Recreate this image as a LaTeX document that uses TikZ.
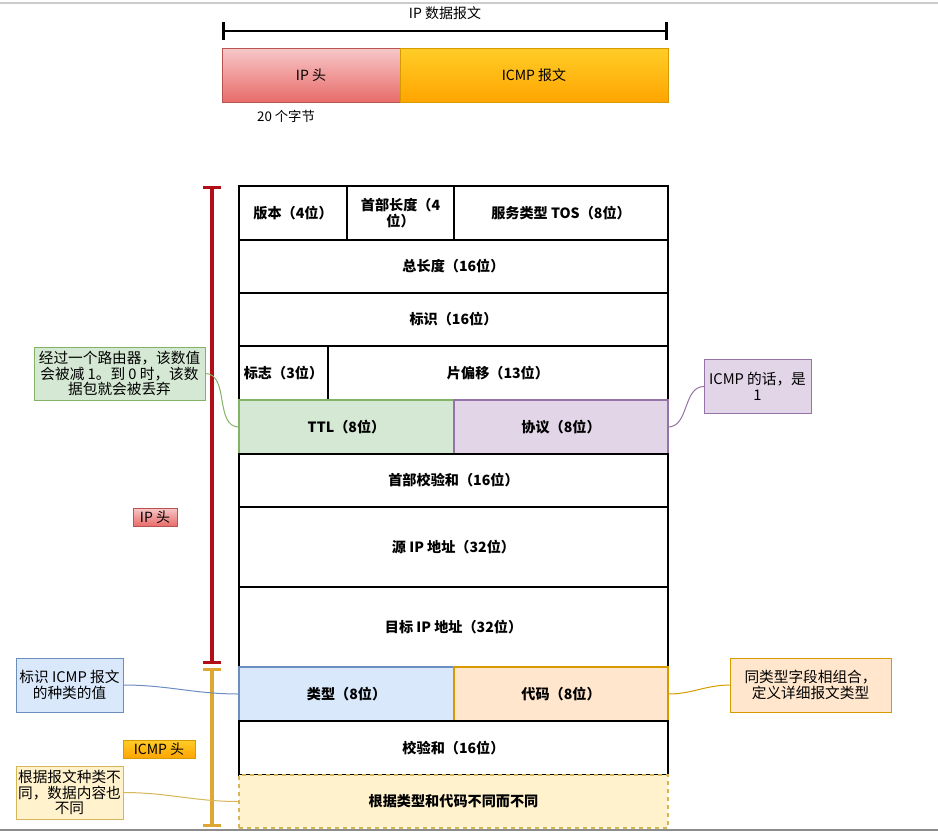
\documentclass[tikz,border=0pt]{standalone}
\usepackage{fontspec}
\setmainfont{Noto Sans CJK SC}
\usetikzlibrary{arrows.meta}

\definecolor{redTop}{RGB}{246,200,200}
\definecolor{redBot}{RGB}{232,108,106}
\definecolor{redLine}{RGB}{184,84,80}
\definecolor{orgTop}{RGB}{255,205,40}
\definecolor{orgBot}{RGB}{255,165,0}
\definecolor{orgLine}{RGB}{215,155,0}
\definecolor{grnFill}{RGB}{213,232,212}
\definecolor{grnLine}{RGB}{130,179,102}
\definecolor{purFill}{RGB}{225,213,231}
\definecolor{purLine}{RGB}{150,115,166}
\definecolor{bluFill}{RGB}{218,232,252}
\definecolor{bluLine}{RGB}{108,142,191}
\definecolor{pchFill}{RGB}{255,230,204}
\definecolor{ylwFill}{RGB}{255,242,204}
\definecolor{ylwLine}{RGB}{214,182,86}
\definecolor{ipRed}{RGB}{178,14,24}
\definecolor{icmpGold}{RGB}{222,166,50}

\begin{document}
\begin{tikzpicture}[x=0.75pt,y=0.75pt,yscale=-1,xscale=1,
  cell/.style={draw,line width=1.35pt,inner sep=1pt,outer sep=0pt,align=center,
    font=\fontsize{10.6}{12.4}\selectfont\bfseries},
  note/.style={draw,line width=0.75pt,inner sep=1pt,outer sep=0pt,align=center,
    font=\fontsize{11}{11.8}\selectfont},
  tag/.style={draw,line width=0.6pt,inner sep=0pt,outer sep=0pt,
    minimum height=13.5pt,font=\fontsize{10.5}{12}\selectfont},
  link/.style={line width=0.75pt},
  brace/.style={line width=2.6pt,{Bar[width=14pt]}-{Bar[width=14pt]}}]

\useasboundingbox (0,0) rectangle (938,832);
% screenshot edges
\draw[line width=2.2pt,black!20] (0,3) -- (938,3);
\draw[line width=2.2pt,black!45] (0,830) -- (938,830);

% datagram overview
\coordinate (dgL) at (222,31);
\coordinate (dgR) at (668,31);
\draw[line width=2.2pt,{Bar[width=13.5pt]}-{Bar[width=13.5pt]}] (dgL) -- (dgR);
\node[font=\fontsize{10.5}{12}\selectfont] (dgram) at (445,13) {IP 数据报文};
\node[draw=redLine,line width=0.75pt,top color=redTop,bottom color=redBot,minimum width=133.5pt,minimum height=40.5pt,
  font=\fontsize{10.5}{12}\selectfont] (iphd) at (311,75) {IP 头};
\node[draw=orgLine,line width=0.75pt,top color=orgTop,bottom color=orgBot,minimum width=201pt,minimum height=40.5pt,
  font=\fontsize{10.5}{12}\selectfont] (icmpmsg) at (534,75) {ICMP 报文};
\node[font=\fontsize{10}{12}\selectfont] (bytes) at (286,116) {20 个字节};

% IP header fields
\node[cell,minimum width=81pt,minimum height=40.5pt] (ver) at (293,213) {版本（4位）};
\node[cell,minimum width=80.25pt,minimum height=40.5pt] (hlen) at (400.5,213) {首部长度（4\\位）};
\node[cell,minimum width=160.5pt,minimum height=40.5pt] (tos) at (561,213) {服务类型 TOS（8位）};
\node[cell,minimum width=321.75pt,minimum height=39.75pt] (tlen) at (453.5,266.5) {总长度（16位）};
\node[cell,minimum width=321.75pt,minimum height=39.75pt] (ident) at (453.5,319.5) {标识（16位）};
\node[cell,minimum width=66.75pt,minimum height=40.5pt] (flags) at (283.5,373) {标志（3位）};
\node[cell,minimum width=255pt,minimum height=40.5pt] (frag) at (498,373) {片偏移（13位）};
\node[cell,draw=grnLine,fill=grnFill,minimum width=161.25pt,minimum height=40.5pt] (ttl) at (346.5,427) {TTL（8位）};
\node[cell,draw=purLine,fill=purFill,minimum width=160.5pt,minimum height=40.5pt] (proto) at (561,427) {协议（8位）};
\node[cell,minimum width=321.75pt,minimum height=39.75pt] (hsum) at (453.5,480.5) {首部校验和（16位）};
\node[cell,minimum width=321.75pt,minimum height=60pt] (src) at (453.5,547) {源 IP 地址（32位）};
\node[cell,minimum width=321.75pt,minimum height=60pt] (dst) at (453.5,627) {目标 IP 地址（32位）};

% ICMP fields
\node[cell,draw=bluLine,fill=bluFill,minimum width=161.25pt,minimum height=40.5pt] (type) at (346.5,694) {类型（8位）};
\node[cell,draw=orgLine,fill=pchFill,minimum width=160.5pt,minimum height=40.5pt] (code) at (561,694) {代码（8位）};
\node[cell,minimum width=321.75pt,minimum height=40.5pt] (isum) at (453.5,748) {校验和（16位）};
\node[cell,draw=ylwLine,fill=ylwFill,dashed,minimum width=321.75pt,minimum height=39.75pt] (data) at (453.5,801.5) {根据类型和代码不同而不同};

% header spans
\coordinate (ipT) at (212,186);
\coordinate (ipB) at (212,664);
\coordinate (icT) at (212,668);
\coordinate (icB) at (212,827);
\draw[brace,ipRed] (ipT) -- (ipB);
\draw[brace,icmpGold] (icT) -- (icB);
\node[tag,draw=redLine,top color=redTop,bottom color=redBot,minimum width=33pt] (iptag) at (155,517) {IP 头};
\node[tag,draw=orgLine,top color=orgTop,bottom color=orgBot,minimum width=54pt] (icmptag) at (159,749) {ICMP 头};

% notes
\node[note,draw=grnLine,fill=grnFill,minimum width=128.25pt,minimum height=39.75pt] (ttlnote) at (119.5,373.5)
  {经过一个路由器，该数值\\会被减 1。到 0 时，该数\\据包就会被丢弃};
\node[note,draw=purLine,fill=purFill,minimum width=80.25pt,minimum height=40pt] (protonote) at (757.5,386.5)
  {ICMP 的话，是\\1};
\node[note,draw=bluLine,fill=bluFill,minimum width=80.25pt,minimum height=40.5pt] (typenote) at (69.5,685)
  {标识 ICMP 报文\\的种类的值};
\node[note,draw=orgLine,fill=pchFill,minimum width=120.75pt,minimum height=40.5pt] (codenote) at (810.5,685)
  {同类型字段相组合，\\定义详细报文类型};
\node[note,draw=ylwLine,fill=ylwFill,minimum width=80.25pt,minimum height=39.75pt] (datanote) at (69.5,792.5)
  {根据报文种类不\\同，数据内容也\\不同};

\draw[link,grnLine] (ttlnote.east) to[out=0,in=180] (ttl.west);
\draw[link,purLine] (protonote.west) to[out=180,in=0] (proto.east);
\draw[link,bluLine] (typenote.east) to[out=0,in=180] (type.west);
\draw[link,orgLine] (codenote.west) to[out=180,in=0] (code.east);
\draw[link,ylwLine] (datanote.east) to[out=0,in=180] (data.west);
\end{tikzpicture}
\end{document}
